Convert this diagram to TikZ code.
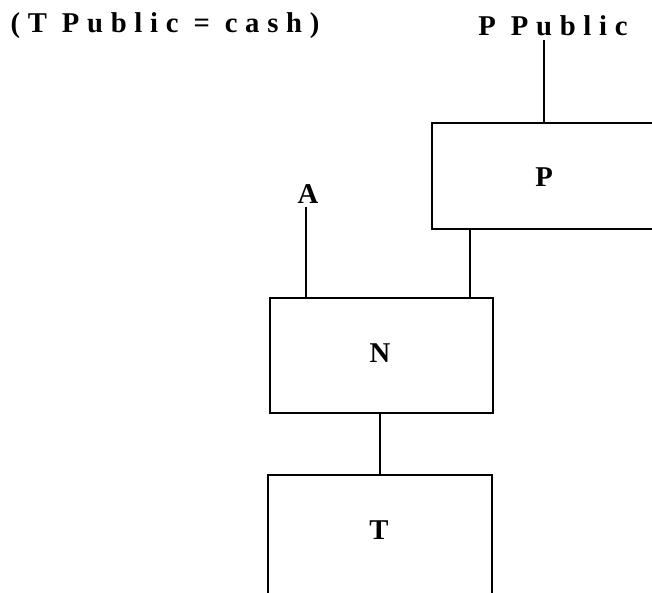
\documentclass[tikz,border=0pt]{standalone}
\usepackage{fontspec}
\setmainfont{Liberation Serif}[LetterSpace=27]
\begin{document}
\begin{tikzpicture}[x=0.75pt, y=0.75pt, line width=1.5pt,
    box/.style={draw, rectangle, inner sep=0pt},
    lbl/.style={font=\bfseries\fontsize{21.5}{25}\selectfont, inner sep=2pt}]
  \useasboundingbox (0,0) rectangle (652,592);
  % Boxes (P runs off the right edge, T off the bottom)
  \node[box, minimum width={221*0.75pt}, minimum height={106*0.75pt}] (P) at (542.5,416) {};
  \node[box, minimum width={223*0.75pt}, minimum height={115*0.75pt}] (N) at (381.5,236.5) {};
  \node[box, minimum width={224*0.75pt}, minimum height={140*0.75pt}] (T) at (380,47) {};
  % Box labels
  \node[lbl] (Plab) at (544,415) {P};
  \node[lbl] (Nlab) at (380,239) {N};
  \node[lbl] (Tlab) at (379,62) {T};
  % Free labels
  \node[lbl] (cash) at (165,566) {(T Public = cash)};
  \node[lbl] (PPub) at (553,566) {P Public};
  \node[lbl] (A) at (308,398) {A};
  % Where the lines meet the boxes
  \coordinate (xPP) at (544,0);
  \coordinate (xPN) at (470,0);
  \coordinate (xNT) at (380,0);
  % Connectors
  \draw (PPub.south -| xPP) -- (P.north -| xPP);
  \draw (P.south -| xPN) -- (N.north -| xPN);
  \draw (A.south -| 306,0) -- (N.north -| 306,0);
  \draw (N.south -| xNT) -- (T.north -| xNT);
\end{tikzpicture}
\end{document}
